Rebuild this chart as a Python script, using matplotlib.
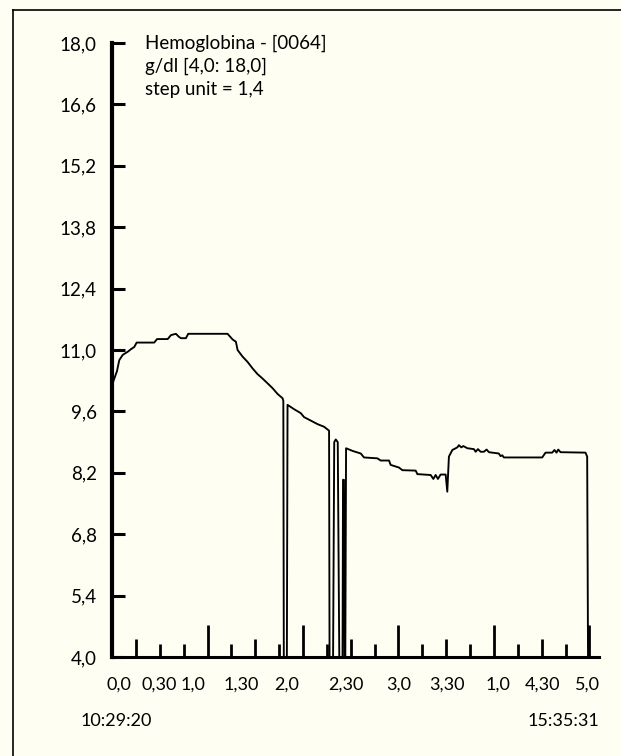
import numpy as np
import matplotlib
matplotlib.use('Agg')
import matplotlib.pyplot as plt
from matplotlib.lines import Line2D

# trace: hours since start vs hemoglobin (g/dl)
hours = [0.016, 0.052, 0.076, 0.112, 0.164, 0.199, 0.233, 0.258, 0.442, 0.471,
         0.583, 0.617, 0.669, 0.701, 0.722, 0.774, 0.798, 1.210, 1.263, 1.297,
         1.315, 1.367, 1.419, 1.472, 1.524, 1.576, 1.629, 1.681, 1.733, 1.786,
         1.794, 1.799, 1.831, 1.838, 1.907, 1.977, 2.011, 2.082, 2.152, 2.221,
         2.273, 2.278, 2.315, 2.327, 2.343, 2.364, 2.380, 2.414, 2.419, 2.429,
         2.435, 2.443, 2.451, 2.518, 2.605, 2.639, 2.779, 2.814, 2.901, 2.918,
         3.005, 3.041, 3.180, 3.198, 3.337, 3.365, 3.389, 3.413, 3.441, 3.494,
         3.511, 3.528, 3.564, 3.616, 3.633, 3.658, 3.679, 3.721, 3.790, 3.808,
         3.832, 3.860, 3.894, 3.923, 3.947, 4.051, 4.069, 4.087, 4.104, 4.505,
         4.540, 4.610, 4.634, 4.655, 4.673, 4.697, 4.958, 4.976, 4.985]
hb = [10.30, 10.52, 10.77, 10.89, 10.96, 11.02, 11.07, 11.17, 11.17, 11.25,
      11.25, 11.34, 11.37, 11.30, 11.27, 11.27, 11.37, 11.37, 11.24, 11.19,
      11.00, 10.85, 10.73, 10.58, 10.45, 10.35, 10.24, 10.13, 10.00, 9.90,
      9.84, 4.00, 4.00, 9.75, 9.65, 9.56, 9.47, 9.39, 9.31, 9.25,
      9.16, 4.00, 4.00, 8.90, 8.96, 8.90, 4.00, 4.00, 8.04, 8.04,
      4.00, 4.00, 8.76, 8.70, 8.64, 8.55, 8.53, 8.48, 8.48, 8.38,
      8.32, 8.26, 8.25, 8.17, 8.15, 8.06, 8.15, 8.06, 8.16, 8.16,
      7.77, 8.57, 8.72, 8.78, 8.83, 8.78, 8.81, 8.76, 8.74, 8.68,
      8.74, 8.68, 8.68, 8.73, 8.67, 8.64, 8.58, 8.60, 8.55, 8.55,
      8.66, 8.66, 8.72, 8.66, 8.73, 8.67, 8.66, 8.57, 4.00]

y_ticks = [4.0, 5.4, 6.8, 8.2, 9.6, 11.0, 12.4, 13.8, 15.2, 16.6, 18.0]
x_labels = ['0,0', '0,30', '1,0', '1,30', '2,0', '2,30', '3,0', '3,30', '1,0', '4,30', '5,0']
x_label_hours = [0.07, 0.49, 0.85, 1.35, 1.83, 2.45, 3.0, 3.51, 4.04, 4.51, 4.98]
hour_marks = [1, 2, 3, 4, 5]
half_marks = [0.25, 1.5, 2.5, 3.5, 4.5]
quarter_marks = [0.5, 0.75, 1.25, 1.75, 2.25, 2.75, 3.25, 3.75, 4.25, 4.75]
start_time = '10:29:20'
end_time = '15:35:31'
title_lines = ['Hemoglobina - [0064]', 'g/dl [4,0: 18,0]', 'step unit = 1,4']

bg = '#fefef3'
plt.rcParams['font.family'] = ['Lato', 'DejaVu Sans']

fig = plt.figure(figsize=(6.21, 7.56), dpi=100, facecolor=bg)
ax = fig.add_axes([0.1804, 0.131, 0.7842, 0.812])
ax.set_facecolor(bg)

ax.plot(hours, hb, color='black', lw=1.35, clip_on=False, zorder=3)

# bottom marks: hour / half hour / quarter
ax.vlines(hour_marks, 4.0, 4.73, color='black', lw=2.0)
ax.vlines(half_marks, 4.0, 4.41, color='black', lw=2.0)
ax.vlines(quarter_marks, 4.0, 4.30, color='black', lw=2.0)

ax.set_xlim(0, 5.10)
ax.set_ylim(4.0, 18.0)

ax.spines['top'].set_visible(False)
ax.spines['right'].set_visible(False)
ax.spines['left'].set_linewidth(3.0)
ax.spines['bottom'].set_linewidth(2.2)

ax.set_yticks(y_ticks)
ax.set_yticklabels([f'{v:.1f}'.replace('.', ',') for v in y_ticks])
ax.tick_params(axis='y', direction='in', length=9, width=2.2, pad=11,
               labelsize=13.5)
ax.set_xticks(x_label_hours)
ax.set_xticklabels(x_labels)
ax.tick_params(axis='x', length=0, pad=14, labelsize=13)

ax.text(-0.065, -0.105, start_time, transform=ax.transAxes, fontsize=13,
        ha='left', va='center')
ax.text(1.0, -0.105, end_time, transform=ax.transAxes, fontsize=13,
        ha='right', va='center')

ax.text(0.068, 1.014, '\n'.join(title_lines), transform=ax.transAxes,
        fontsize=13.5, ha='left', va='top', linespacing=1.42)

# scan frame (left and top edges only)
fig.add_artist(Line2D([13 / 621, 13 / 621], [0, 1 - 10 / 756], color='black',
                      lw=1.2, transform=fig.transFigure))
fig.add_artist(Line2D([13 / 621, 1], [1 - 10 / 756, 1 - 10 / 756], color='black',
                      lw=1.2, transform=fig.transFigure))

fig.savefig('out.png', dpi=100, facecolor=bg)
